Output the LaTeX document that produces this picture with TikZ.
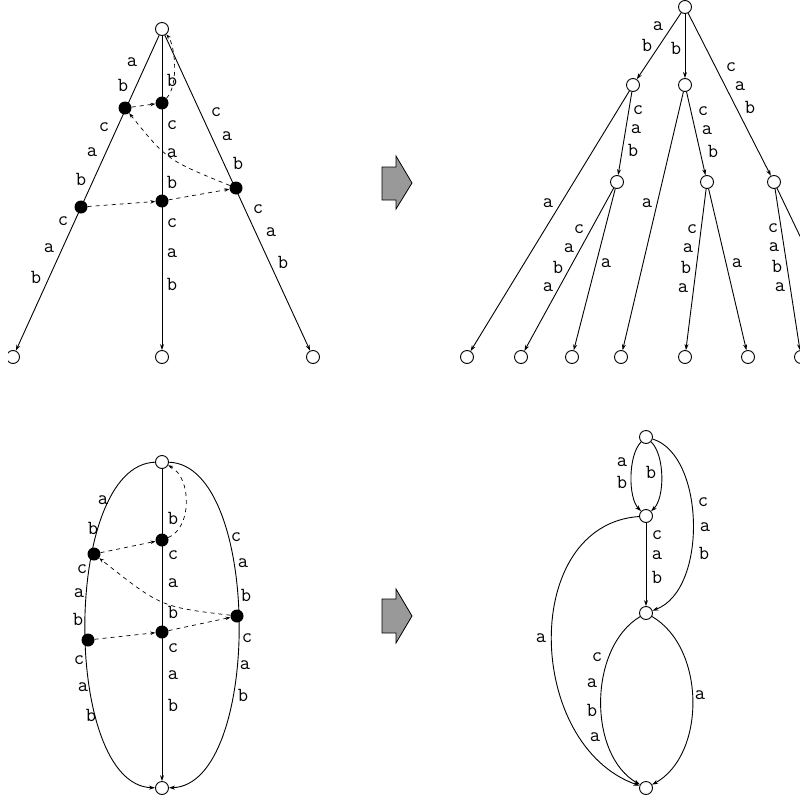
\documentclass[tikz,border=0pt]{standalone}
\usetikzlibrary{arrows.meta}

\begin{document}
\begin{tikzpicture}[
    x=1pt, y=-1pt,
    state/.style={circle, draw, fill=white, line width=0.9pt, minimum size=13pt, inner sep=0pt},
    dot/.style={circle, fill=black, minimum size=13pt, inner sep=0pt},
    edge/.style={-{Stealth[length=6pt, width=4pt]}, line width=0.9pt},
    link/.style={-{Stealth[length=5pt, width=3.5pt]}, dash pattern=on 4pt off 4pt, line width=0.7pt},
    lbl/.style={font=\ttfamily\fontsize{20}{20}\selectfont, inner sep=0pt},
    bigarrow/.style={draw, fill=black!40, line width=0.8pt},
]
\useasboundingbox (0,0) rectangle (800,803);
\clip (8,0) rectangle (800,803);

% Top left: three branches with marked positions
\node[state] (aroot) at (162,29) {};
\node[state] (aleft) at (13,357) {};
\node[state] (amid) at (162,357) {};
\node[state] (aright) at (313,357) {};

\draw[edge] (aroot) -- (aleft);
\draw[edge] (aroot) -- (amid);
\draw[edge] (aroot) -- (aright);

\node[dot] (al1) at (125,108) {};
\node[dot] (al2) at (81,207) {};
\node[dot] (am1) at (162,103) {};
\node[dot] (am2) at (162,201) {};
\node[dot] (ar1) at (236,188) {};

\draw[link] (al1) -- (am1);
\draw[link] (al2) -- (am2);
\draw[link] (am2) -- (ar1);
\draw[link] (ar1) .. controls (167,160) .. (al1);
\draw[link] (am1) .. controls (179,85) and (175,45) .. (aroot);

\foreach \x/\y/\t [count=\i] in {132/62/a, 123/85/b, 104/127/c, 92/152/a, 81/179/b, 63/221/c, 49/248/a, 36/277/b,
    172/80/b, 172/125/c, 172/153/a, 172/182/b, 172/223/c, 172/253/a, 172/284/b,
    216/112/c, 227/136/a, 238/163/b, 258/209/c, 271/232/a, 283/262/b}
  \node[lbl] (alab\i) at (\x,\y) {\t};

% Block arrows
\draw[bigarrow] (382,167) -- (396,167) -- (396,156) -- (412,183) -- (396,209) -- (396,200) -- (382,200) -- cycle;
\draw[bigarrow] (382,599) -- (396,599) -- (396,589) -- (412,616) -- (396,643) -- (396,633) -- (382,633) -- cycle;

% Top right: the unfolded tree
\node[state] (broot) at (685,7) {};
\node[state] (b1) at (633,85) {};
\node[state] (b2) at (685,85) {};
\node[state] (b3) at (617,182) {};
\node[state] (b4) at (707,182) {};
\node[state] (b5) at (774,182) {};
\foreach \x [count=\i] in {467,521,572,621,685,748,801,858}
  \node[state] (bleaf\i) at (\x,357) {};

\draw[edge] (broot) -- (b1);
\draw[edge] (broot) -- (b2);
\draw[edge] (broot) -- (b5);
\draw[edge] (b1) -- (bleaf1);
\draw[edge] (b1) -- (b3);
\draw[edge] (b3) -- (bleaf2);
\draw[edge] (b3) -- (bleaf3);
\draw[edge] (b2) -- (bleaf4);
\draw[edge] (b2) -- (b4);
\draw[edge] (b4) -- (bleaf5);
\draw[edge] (b4) -- (bleaf6);
\draw[edge] (b5) -- (bleaf7);
\draw[edge] (b5) -- (bleaf8);

\foreach \x/\y/\t [count=\i] in {658/26/a, 647/45/b, 676/48/b, 731/67/c, 740/86/a, 750/107/b,
    638/110/c, 636/129/a, 633/150/b, 548/203/a,
    579/229/c, 569/248/a, 558/267/b, 548/287/a, 606/263/a, 647/203/a,
    703/111/c, 707/130/a, 713/151/b,
    692/229/c, 688/248/a, 686/267/b, 683/288/a, 737/263/a,
    773/228/c, 774/247/a, 777/266/b, 780/287/a}
  \node[lbl] (blab\i) at (\x,\y) {\t};

% Bottom left: the folded version with marks
\node[state] (croot) at (162,462) {};
\node[state] (cend) at (162,788) {};

\draw[edge] (croot) -- (cend);
\draw[edge] (croot) .. controls (62,465) and (62,785) .. (cend);
\draw[edge] (croot) .. controls (262,465) and (262,785) .. (cend);

\node[dot] (cl1) at (94,554) {};
\node[dot] (cl2) at (88,640) {};
\node[dot] (cm1) at (162,540) {};
\node[dot] (cm2) at (162,632) {};
\node[dot] (cr1) at (237,616) {};

\draw[link] (cl1) -- (cm1);
\draw[link] (cl2) -- (cm2);
\draw[link] (cm2) -- (cr1);
\draw[link] (cr1) .. controls (161,607) .. (cl1);
\draw[link] (cm1) .. controls (192,528) and (192,478) .. (croot);

\foreach \x/\y/\t [count=\i] in {103/500/a, 93/528/b, 82/569/c, 79/593/a, 78/619/b, 79/660/c, 83/687/a, 91/715/b,
    173/518/b, 173/555/c, 173/583/a, 173/612/b, 173/648/c, 173/675/a, 173/705/b,
    236/537/c, 243/563/a, 246/595/b, 247/638/c, 245/665/a, 243/695/b}
  \node[lbl] (clab\i) at (\x,\y) {\t};

% Bottom right: the folded graph
\node[state] (d0) at (646,437) {};
\node[state] (d1) at (646,516) {};
\node[state] (d2) at (646,613) {};
\node[state] (d3) at (646,788) {};

\draw[edge] (d0) .. controls (628,455) and (628,498) .. (d1);
\draw[edge] (d0) .. controls (665,455) and (665,498) .. (d1);
\draw[edge] (d0) .. controls (705,455) and (708,590) .. (d2);
\draw[edge] (d1) -- (d2);
\draw[edge] (d1) .. controls (520,525) and (525,745) .. (d3);
\draw[edge] (d2) .. controls (588,648) and (588,755) .. (d3);
\draw[edge] (d2) .. controls (706,648) and (706,755) .. (d3);

\foreach \x/\y/\t [count=\i] in {622/462/a, 622/482/b, 651/472/b,
    703/502/c, 705/527/a, 704/553/b, 657/535/c, 657/555/a, 657/577/b,
    541/638/a, 597/657/c, 592/683/a, 592/710/b, 595/737/a, 700/695/a}
  \node[lbl] (dlab\i) at (\x,\y) {\t};

\end{tikzpicture}
\end{document}
